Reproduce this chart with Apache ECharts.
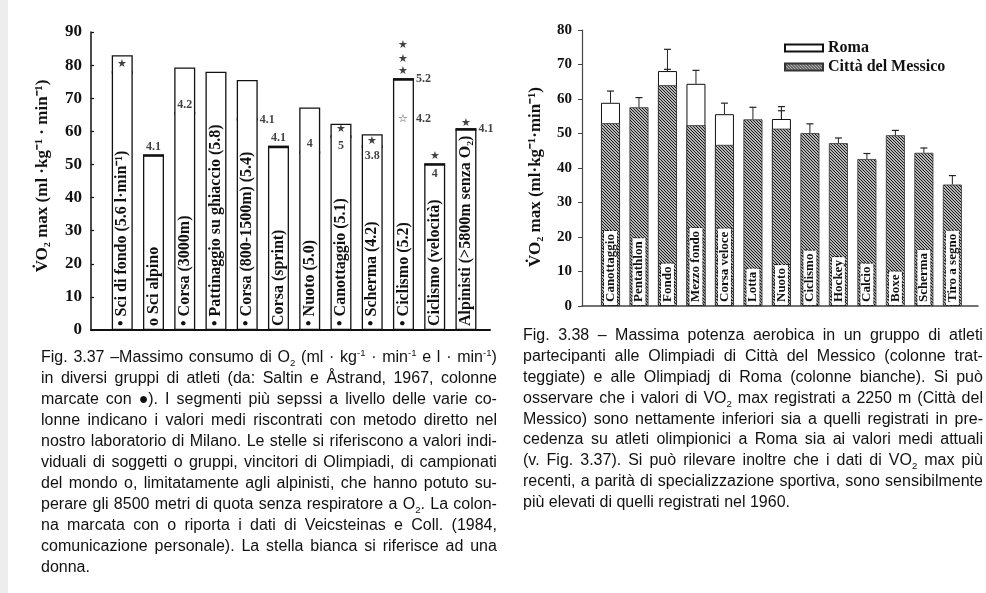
<!DOCTYPE html>
<html>
<head>
<meta charset="utf-8">
<script src="https://cdn.jsdelivr.net/npm/echarts@6/dist/echarts.min.js"></script>
<style>
html,body{margin:0;padding:0;background:#fff;}
#chart{position:absolute;left:0;top:0;width:986px;height:593px;}
.cap{position:absolute;font-family:'Liberation Sans',Arial,Helvetica,sans-serif;font-size:16px;color:#111;}
.ln{display:flex;justify-content:space-between;white-space:nowrap;overflow:visible;}
.ln.last{justify-content:flex-start;}
.ln.last span{margin-right:0.28em;}
.ln sub,.ln sup{font-size:0.6em;line-height:0;}
</style>
</head>
<body>
<div id="chart"></div>
<div id="capL" class="cap" style="left:41px;top:346px;width:456px;"></div>
<div id="capR" class="cap" style="left:523px;top:325px;width:460px;"></div>
<script>
// ---------- Fig. 3.37 (left) ----------
const leftCategories = ['• Sci di fondo (5.6 l·min⁻¹)', 'o Sci alpino', '• Corsa (3000m)', '• Pattinaggio su ghiaccio (5.8)', '• Corsa (800-1500m) (5.4)', 'Corsa (sprint)', '• Nuoto (5.0)', '• Canottaggio (5.1)', '• Scherma (4.2)', '• Ciclismo (5.2)', 'Ciclismo (velocità)', 'Alpinisti (>5800m senza O₂)'];
const leftTop  = [83, 52.7, 79.3, 78, 75.5, 55.3, 67.2, 62.3, 59.1, 75.7, 50, 60.6];
const leftMean = [77.8, 52.7, 65.5, null, 63.6, 55.3, 53.6, 58.4, 55.4, 75.7, 50, 60.6];
const leftMeanLabels = ['', '4.1', '4.2', '', '4.1', '4.1', '4', '5', '3.8', '5.2', '4', '4.1'];
const leftStarBar = [1, 8, 9, 10, 10, 10, 11, 12];
const leftStarValue = [80.3, 60.6, 57.2, 86, 81.9, 78.1, 52.6, 62.6];
const leftWhiteStarBar = [10];
const leftWhiteStarValue = [63.7];
const leftWhiteStarLabels = ['4.2'];
const leftTicks = [0, 10, 20, 30, 40, 50, 60, 70, 80, 90];

// ---------- Fig. 3.38 (right) ----------
const rightCategories = ['Canottaggio', 'Pentathlon', 'Fondo', 'Mezzo fondo', 'Corsa veloce', 'Lotta', 'Nuoto', 'Ciclismo', 'Hockey', 'Calcio', 'Boxe', 'Scherma', 'Tiro a segno'];
const roma       = [58.9, null, 68.1, 64.4, 55.6, null, 54.2, null, null, null, null, null, null];
const romaErr    = [62.3, null, 74.4, 68.3, 58.8, null, 57.8, null, null, null, null, null, null];
const messico    = [53, 57.6, 64, 52.4, 46.7, 54.1, 51.4, 50.1, 47.2, 42.6, 49.5, 44.4, 35.2];
const messicoErr = [54.9, 60.4, 68.6, 57.3, 49.6, 57.6, 56.6, 52.8, 48.7, 44.2, 50.9, 45.8, 37.8];
const rightTicks = [0, 10, 20, 30, 40, 50, 60, 70, 80];
const legendNames = ['Roma', 'Città del Messico'];

// ---------- captions ----------
const leftCaption = [
 'Fig. 3.37 –Massimo consumo di O<sub>2</sub> (ml · kg<sup>-1</sup> · min<sup>-1</sup> e l · min<sup>-1</sup>)',
 'in diversi gruppi di atleti (da: Saltin e Åstrand, 1967, colonne',
 'marcate con ●). I segmenti più sepssi a livello delle varie co-',
 'lonne indicano i valori medi riscontrati con metodo diretto nel',
 'nostro laboratorio di Milano. Le stelle si riferiscono a valori indi-',
 'viduali di soggetti o gruppi, vincitori di Olimpiadi, di campionati',
 'del mondo o, limitatamente agli alpinisti, che hanno potuto su-',
 'perare gli 8500 metri di quota senza respiratore a O<sub>2</sub>. La colon-',
 'na marcata con o riporta i dati di Veicsteinas e Coll. (1984,',
 'comunicazione personale). La stella bianca si riferisce ad una',
 'donna.'
];
const rightCaption = [
 'Fig. 3.38 – Massima potenza aerobica in un gruppo di atleti',
 'partecipanti alle Olimpiadi di Città del Messico (colonne trat-',
 'teggiate) e alle Olimpiadj di Roma (colonne bianche). Si può',
 'osservare che i valori di VO<sub>2</sub> max registrati a 2250 m (Città del',
 'Messico) sono nettamente inferiori sia a quelli registrati in pre-',
 'cedenza su atleti olimpionici a Roma sia ai valori medi attuali',
 '(v. Fig. 3.37). Si può rilevare inoltre che i dati di VO<sub>2</sub> max più',
 'recenti, a parità di specializzazione sportiva, sono sensibilmente',
 'più elevati di quelli registrati nel 1960.'
];

function buildCaption(el, lines, lh) {
  lines.forEach((ln, k) => {
    const d = document.createElement('div');
    d.className = 'ln' + (k === lines.length - 1 ? ' last' : '');
    d.style.height = lh + 'px';
    d.style.lineHeight = lh + 'px';
    ln.split(' ').filter(w => w.length).forEach(w => {
      const s = document.createElement('span');
      s.innerHTML = w;
      d.appendChild(s);
    });
    el.appendChild(d);
    let ls = 0;
    while (d.scrollWidth > d.clientWidth + 0.5 && ls > -1.5) {
      ls -= 0.05;
      d.style.letterSpacing = ls + 'px';
    }
  });
}
buildCaption(document.getElementById('capL'), leftCaption, 21);
buildCaption(document.getElementById('capR'), rightCaption, 20.9);

// ---------- chart ----------
const SERIF = "'Liberation Serif','Times New Roman',serif";
const INK = '#111';

function makeHatch() {
  const n = 3;
  const c = document.createElement('canvas');
  c.width = n; c.height = n;
  const g = c.getContext('2d');
  g.fillStyle = '#fff'; g.fillRect(0, 0, n, n);
  g.strokeStyle = '#111'; g.lineWidth = 1.15;
  g.beginPath();
  g.moveTo(-1, -1); g.lineTo(n + 1, n + 1);
  g.moveTo(-1, n - 1); g.lineTo(1, n + 1);
  g.moveTo(n - 1, -1); g.lineTo(n + 1, 1);
  g.stroke();
  return c;
}
const hatch = { image: makeHatch(), repeat: 'repeat' };

const labelPlacement = ['', 'top', 'top', '', 'right', 'top', 'top', 'bottom', 'bottom', 'right', 'bottom', 'right'];

const meanLineData = [];
const meanLabelData = [];
leftMean.forEach((v, i) => {
  if (v == null) return;
  meanLineData.push([i + 1, v]);
  if (leftMeanLabels[i]) {
    const pos = labelPlacement[i];
    meanLabelData.push({
      name: leftMeanLabels[i], value: [i + 1, v],
      label: { position: pos, distance: pos === 'right' ? 12 : (pos === 'bottom' ? 3 : 2) }
    });
  }
});
leftWhiteStarBar.forEach((b, k) => {
  meanLabelData.push({ name: leftWhiteStarLabels[k], value: [b, leftWhiteStarValue[k]], label: { position: 'right', distance: 12 } });
});

const errData = [];
messico.forEach((v, i) => {
  if (roma[i] != null) errData.push([i + 1, roma[i], romaErr[i]]);
  errData.push([i + 1, v, messicoErr[i]]);
});

const axisFont = { fontFamily: SERIF, fontWeight: 'bold', color: INK };

const option = {
  animation: false,
  backgroundColor: '#fff',
  graphic: [{ type: 'rect', left: 0, top: 0, shape: { width: 8, height: 593 }, style: { fill: '#ededed' }, silent: true }],
  legend: {
    data: legendNames, orient: 'vertical', left: 779, top: 35, itemWidth: 38, itemHeight: 7, itemGap: 3,
    icon: 'rect', selectedMode: false,
    textStyle: { fontFamily: SERIF, fontWeight: 'bold', fontSize: 16, color: INK }
  },
  grid: [
    { left: 91, top: 32, width: 399, height: 298, outerBoundsMode: 'none' },
    { left: 582, top: 30, width: 396, height: 276, outerBoundsMode: 'none' }
  ],
  xAxis: [
    { gridIndex: 0, type: 'value', min: 0, max: 12.77, axisLabel: { show: false }, axisTick: { show: false }, splitLine: { show: false },
      axisLine: { show: true, lineStyle: { color: INK, width: 2 } } },
    { gridIndex: 1, type: 'value', min: 0, max: 13.9, axisLabel: { show: false }, axisTick: { show: false }, splitLine: { show: false },
      axisLine: { show: true, lineStyle: { color: '#444', width: 1.5 } } }
  ],
  yAxis: [
    { gridIndex: 0, type: 'value', min: leftTicks[0], max: leftTicks[leftTicks.length - 1], interval: 10,
      splitLine: { show: false },
      axisLine: { show: true, lineStyle: { color: INK, width: 1.5 } },
      axisTick: { show: true, inside: true, length: 3, lineStyle: { color: INK, width: 1.2 } },
      axisLabel: Object.assign({ fontSize: 17, margin: 9 }, axisFont),
      name: 'V̇O₂ max (ml ·kg⁻¹ · min⁻¹)', nameLocation: 'middle', nameRotate: 90, nameGap: 40,
      nameTextStyle: { fontFamily: SERIF, fontWeight: 'bold', fontSize: 17, color: INK, padding: [0, 0, 0, 10] } },
    { gridIndex: 1, type: 'value', min: rightTicks[0], max: rightTicks[rightTicks.length - 1], interval: 10,
      splitLine: { show: false },
      axisLine: { show: true, lineStyle: { color: '#444', width: 1.2 } },
      axisTick: { show: true, inside: false, length: 4, lineStyle: { color: '#444', width: 1 } },
      axisLabel: Object.assign({ fontSize: 15, margin: 10 }, axisFont),
      name: 'V̇O₂ max (ml·kg⁻¹·min⁻¹)', nameLocation: 'middle', nameRotate: 90, nameGap: 38,
      nameTextStyle: { fontFamily: SERIF, fontWeight: 'bold', fontSize: 17, color: INK, padding: [0, 18, 0, 0] } }
  ],
  series: [
    { type: 'bar', xAxisIndex: 0, yAxisIndex: 0, barWidth: 21,
      data: leftTop.map((v, i) => [i + 1, v]),
      itemStyle: { color: '#fff', borderColor: INK, borderWidth: 1.3 },
      label: { show: true, position: 'insideBottom', distance: 4, rotate: 90, align: 'left', verticalAlign: 'middle',
        formatter: p => leftCategories[p.dataIndex], fontFamily: SERIF, fontWeight: 'bold', fontSize: 16, color: INK } },
    { type: 'custom', xAxisIndex: 0, yAxisIndex: 0, data: meanLineData, encode: { x: 0, y: 1 },
      renderItem: (params, api) => {
        const p = api.coord([api.value(0), api.value(1)]);
        return { type: 'line', shape: { x1: p[0] - 10.5, y1: p[1], x2: p[0] + 10.5, y2: p[1] }, style: { stroke: INK, lineWidth: 2.6 } };
      } },
    { type: 'scatter', xAxisIndex: 0, yAxisIndex: 0, data: meanLabelData, symbolSize: 1, itemStyle: { color: 'transparent' },
      label: { show: true, formatter: '{b}', fontFamily: SERIF, fontWeight: 'bold', fontSize: 12, color: INK } },
    { type: 'scatter', xAxisIndex: 0, yAxisIndex: 0, data: leftStarBar.map((b, k) => [b, leftStarValue[k]]), symbolSize: 1,
      itemStyle: { color: 'transparent' },
      label: { show: true, position: 'inside', formatter: '★', fontSize: 11, color: INK } },
    { type: 'scatter', xAxisIndex: 0, yAxisIndex: 0, data: leftWhiteStarBar.map((b, k) => [b, leftWhiteStarValue[k]]), symbolSize: 1,
      itemStyle: { color: 'transparent' },
      label: { show: true, position: 'inside', formatter: '☆', fontSize: 11, color: INK } },
    { name: legendNames[0], type: 'bar', xAxisIndex: 1, yAxisIndex: 1, barWidth: 19, barGap: '-100%',
      data: roma.map((v, i) => v == null ? null : [i + 1, v]).filter(d => d),
      itemStyle: { color: '#fff', borderColor: INK, borderWidth: 1 } },
    { name: legendNames[1], type: 'bar', xAxisIndex: 1, yAxisIndex: 1, barWidth: 19, barGap: '-100%',
      data: messico.map((v, i) => [i + 1, v]),
      itemStyle: { color: hatch, borderColor: '#333', borderWidth: 0.8 },
      label: { show: true, position: 'insideBottom', distance: 1, rotate: 90, align: 'left', verticalAlign: 'middle',
        formatter: p => rightCategories[p.dataIndex], fontFamily: SERIF, fontWeight: 'bold', fontSize: 13, color: INK,
        backgroundColor: '#fff', borderColor: '#222', borderWidth: 1, borderType: 'dotted', padding: [0, 3] } },
    { type: 'custom', xAxisIndex: 1, yAxisIndex: 1, data: errData, encode: { x: 0, y: [1, 2] },
      renderItem: (params, api) => {
        const a = api.coord([api.value(0), api.value(1)]);
        const b = api.coord([api.value(0), api.value(2)]);
        return { type: 'group', children: [
          { type: 'line', shape: { x1: a[0], y1: a[1], x2: b[0], y2: b[1] }, style: { stroke: '#222', lineWidth: 1 } },
          { type: 'line', shape: { x1: b[0] - 3.5, y1: b[1], x2: b[0] + 3.5, y2: b[1] }, style: { stroke: '#222', lineWidth: 1.2 } }
        ] };
      } }
  ]
};
const chart = echarts.init(document.getElementById('chart'));
chart.setOption(option);
</script>
</body>
</html>
